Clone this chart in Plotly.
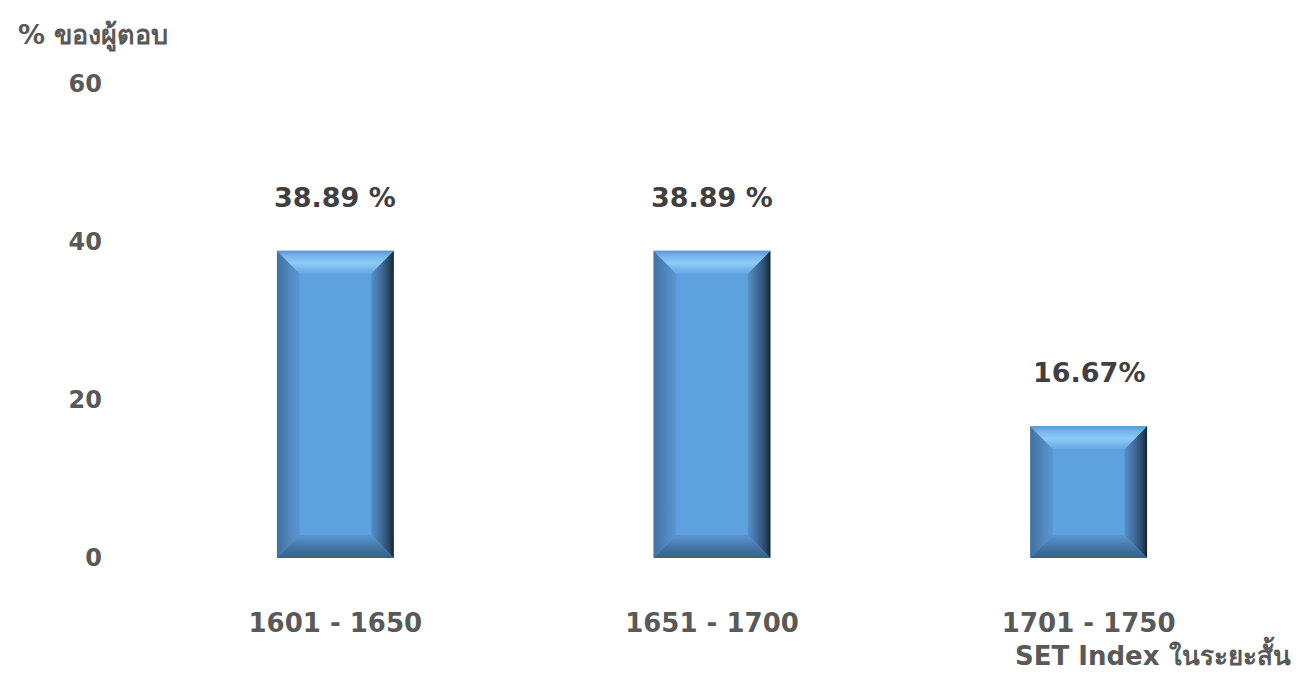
import plotly.graph_objects as go

categories = ["1601 - 1650", "1651 - 1700", "1701 - 1750"]
values = [38.89, 38.89, 16.67]
value_labels = ["38.89 %", "38.89 %", "16.67%"]
y_ticks = [0, 20, 40, 60]

FONT = "DejaVu Sans, Liberation Sans, Arial, sans-serif"
HW = 0.155      # half bar width (category units)
BX = 0.06       # bevel thickness, x (category units)
BY = 2.9        # bevel thickness, y (data units)

xs = list(range(len(categories)))

fig = go.Figure()

# main bar faces
fig.add_trace(go.Bar(
    x=xs, y=values, width=2 * HW,
    marker=dict(color="#5ea1df", line=dict(width=0)),
    hoverinfo="skip", showlegend=False,
))

def poly(px, py, orient, scale):
    fig.add_trace(go.Scatter(
        x=px + [px[0]], y=py + [py[0]], mode="lines", fill="toself",
        line=dict(width=0), fillcolor="#5ea1df",
        fillgradient=dict(type=orient, colorscale=scale),
        hoverinfo="skip", showlegend=False,
    ))

for i, v in zip(xs, values):
    xl, xr = i - HW, i + HW
    xli, xri = xl + BX, xr - BX
    yb, yt = 0, v
    ybi, yti = BY, v - BY
    # left bevel
    poly([xl, xl, xli, xli], [yb, yt, yti, ybi], "horizontal",
         [[0, "#42709f"], [0.5, "#4f85bc"], [1, "#5a97d2"]])
    # right bevel
    poly([xr, xr, xri, xri], [yb, yt, yti, ybi], "horizontal",
         [[0, "#5690c8"], [0.45, "#3f6a97"], [0.8, "#2a4663"], [1, "#14222f"]])
    # bottom bevel
    poly([xl, xr, xri, xli], [yb, yb, ybi, ybi], "vertical",
         [[0, "#36608a"], [0.5, "#4677a8"], [1, "#5a98d3"]])
    # top bevel
    poly([xl, xr, xri, xli], [yt, yt, yti, yti], "vertical",
         [[0, "#64a6e2"], [0.45, "#8ecbf7"], [0.75, "#79b7ec"], [1, "#5a97d0"]])

for i, v, t in zip(xs, values, value_labels):
    fig.add_annotation(
        x=i, y=v, text=t, showarrow=False, yanchor="bottom", yshift=36,
        font=dict(family=FONT, size=27, color="#404040", weight="bold"),
    )

fig.add_annotation(
    xref="paper", yref="paper", x=-0.1158, y=1.103, xanchor="left", yanchor="middle",
    text="% ของผู้ตอบ", showarrow=False,
    font=dict(family=FONT, size=27, color="#595959", weight="bold"),
)
fig.add_annotation(
    xref="paper", yref="paper", x=1.014, y=-0.2425, xanchor="right", yanchor="bottom",
    text="SET Index ในระยะสั้น", showarrow=False,
    font=dict(family=FONT, size=26, color="#595959", weight="bold"),
)

fig.update_layout(
    width=1289, height=666,
    margin=dict(l=138.5, r=19.5, t=75.5, b=115.5),
    paper_bgcolor="white", plot_bgcolor="white",
    barmode="overlay", showlegend=False,
)
fig.update_xaxes(
    range=[-0.5, 2.5], tickvals=xs, ticktext=categories,
    showgrid=False, zeroline=False, showline=False, ticks="",
    ticklabelstandoff=47,
    tickfont=dict(family=FONT, size=26, color="#595959", weight="bold"),
)
fig.update_yaxes(
    range=[0, 60], tickvals=y_ticks,
    showgrid=False, zeroline=False, showline=False, ticks="",
    ticklabelstandoff=44,
    tickfont=dict(family=FONT, size=24, color="#595959", weight="bold"),
)

fig.write_html("out.html")
